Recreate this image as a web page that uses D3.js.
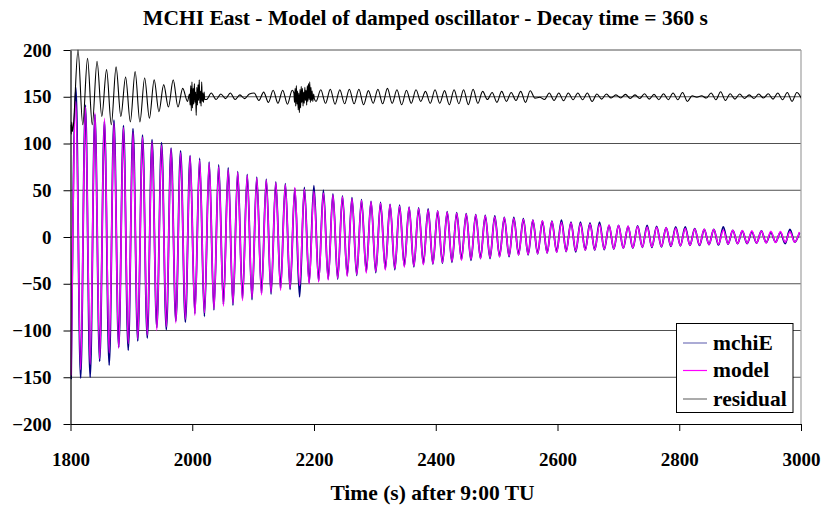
<!DOCTYPE html>
<html>
<head>
<meta charset="utf-8">
<script src="https://cdn.jsdelivr.net/npm/d3@7"></script>
<style>
  body { margin: 0; background: #fff; }
  svg { display: block; }
  text { font-family: "Liberation Serif", "Times New Roman", serif; font-weight: bold; fill: #000; }
</style>
</head>
<body>
<svg id="chart" width="825" height="506"></svg>
<script>
// ---- data ---------------------------------------------------------------
const TITLE = "MCHI East - Model of damped oscillator - Decay time = 360 s";
const X_LABEL = "Time (s) after 9:00 TU";
const X_TICKS = [1800, 2000, 2200, 2400, 2600, 2800, 3000];
const Y_TICKS = [-200, -150, -100, -50, 0, 50, 100, 150, 200];
const SERIES_NAMES = ["mchiE", "model", "residual"];

// successive extrema (trough, crest, ...) are one half period apart
const HALF_PERIOD = 7.82;      // s
const T0_SIGNAL = 1801;        // time of the first extremum of mchiE / model
const T0_RESIDUAL = 1804.5;    // time of the first extremum of the residual
const RESIDUAL_OFFSET = 150;   // residual is drawn shifted up by this amount

// model: extrema of the fitted damped oscillation
const MODEL = [
  -148, 145, -142, 139, -136, 133, -130, 127, -124, 122,
  -119, 117, -114, 112, -109, 107, -105, 102, -100, 98,
  -96, 94, -92, 90, -88, 86, -84, 82, -81, 79,
  -77, 75, -74, 72, -71, 69, -68, 66, -65, 63,
  -62, 61, -59, 58, -57, 56, -54, 53, -52, 51,
  -50, 49, -48, 47, -46, 45, -44, 43, -42, 41,
  -40, 39, -38.5, 37.6, -36.8, 36, -35.3, 34.5, -33.8, 33,
  -32.3, 31.6, -31, 30.3, -29.6, 29, -28.4, 27.8, -27.2, 26.6,
  -26, 25.5, -24.9, 24.4, -23.9, 23.4, -22.9, 22.4, -21.9, 21.4,
  -21, 20.5, -20.1, 19.7, -19.2, 18.8, -18.4, 18, -17.6, 17.3,
  -16.9, 16.5, -16.2, 15.8, -15.5, 15.2, -14.8, 14.5, -14.2, 13.9,
  -13.6, 13.3, -13, 12.8, -12.5, 12.2, -12, 11.7, -11.5, 11.2,
  -11, 10.7, -10.5, 10.3, -10.1, 9.8, -9.6, 9.4, -9.2, 9,
  -8.8, 8.6, -8.5, 8.3, -8.1, 7.9, -7.8, 7.6, -7.4, 7.3,
  -7.1, 7, -6.8, 6.7, -6.5, 6.4, -6.3, 6.1, -6, 5.9,
  -5.7, 5.6, -5.5, 5.4
];

// mchiE: measured extrema
const MCHIE = [
  -152, 160, -151, 141, -150, 131, -133, 124, -137, 125,
  -118, 119, -121, 116, -111, 109, -108, 104, -97, 101,
  -99, 95, -90, 92, -91, 87, -82, 84, -85, 80,
  -78, 77, -72, 74, -73, 70, -66, 67, -67, 64,
  -60, 62, -61, 59, -55, 57, -56, 52, -64, 53,
  -49, 55, -47, 50, -45, 46, -45, 44, -41, 42,
  -41, 40, -37, 38, -38, 37, -34, 35, -35, 34,
  -31, 32, -32, 31, -29, 30, -29, 28, -28, 27,
  -27, 26, -24, 25, -25, 24, -23, 23, -23, 22.5,
  -21, 21, -21, 21, -19, 19.6, -19, 18, -18, 17,
  -17, 17, -16, 18, -15.5, 16, -16, 16, -14, 15,
  -14, 16, -13.5, 12.5, -13, 12.5, -12, 11.4, -12, 11.8,
  -11, 12.5, -11, 11.4, -10.5, 10, -10, 10.7, -9.5, 10.7,
  -9, 9, -9, 8, -8, 8, -8.5, 10.7, -7.5, 7,
  -7, 6.4, -7, 5.4, -6.5, 6.4, -6, 4.6, -5.5, 5,
  -7, 8, -5.5, 4.6
];

// residual (mchiE - model): extrema between the noisy stretches
const RESIDUAL = [
  -32, 50, -30, 41, -30, 38, -21, 29, -30, 32,
  -21, 21, -27, 27, -27, 20, -23, 18, -16, 13,
  -11, 18, -11, 9, -5, 10, -12, 8, -3, 4,
  -3, 3, -2, 4, -3, 2, -2, 3, 4, -4,
  5, -6, 7, -7, 7, -8, 7, -6, 5, -6,
  4, -5, 7.5, -7, 8, -8, 7.5, -7.5, 8, -7.5,
  8, -8.6, 6.5, -7, 8, -7.5, 9, -7, 7.5, -8.6,
  7, -7, 7.5, -5, 5.7, -7, 7.5, -7, 6.5, -8.6,
  7.5, -7.5, 7.5, -8.5, 8, -7, 5.7, -3, 4.6, -6,
  5.7, -5, 4.6, -4, 5.7, -6, 6.4, -1.5, -0.5, -3,
  4, -4, 4, -4.3, 4, -3.2, 4, -3.2, 4, -5,
  3, -2.5, 2.9, -1.4, 2, -1.4, 2.5, -1.8, 2, -1.8,
  3.2, -2.5, 2.5, -3.2, 3.2, -3.2, 4, -3.2, 4.6, -5,
  1, -0.5, 1, -1.4, 4, -3.2, 5.4, -4, 3.2, -2.5,
  2.9, -1.8, 2, -1.8, 2.9, -1.4, 3.2, -2.5, 4, -3.2,
  4.6, -5, 4.6, -2
];

// residual: stretches of fast disturbances, [time (s), value]
const RESIDUAL_BURSTS = [[1995, 2021], [2166, 2201]];
const RESIDUAL_NOISE = [
  [1800.3, -30], [1801.2, -40], [1802, -27], [1803, -37],
  [1995.5, 3], [1996.5, -9], [1997.5, 12], [1998.5, -15], [1999.5, 16],
  [2000.5, -12], [2001.5, 9], [2002.5, -8], [2003.5, 14], [2004.5, -6],
  [2005.5, 5], [2006.5, -20], [2007.5, 10], [2008.5, -9], [2009.5, 13],
  [2010.5, -4], [2011.5, 18], [2012.5, -7], [2013.5, 6], [2014.5, -10],
  [2015.5, 16], [2016.5, -5], [2017.5, 4], [2018.5, -6], [2019.5, 5], [2020.5, -3],
  [2167, 4], [2168, -6], [2169, 9], [2170, -10], [2171, 12], [2172, -8],
  [2173, 6], [2174, -14], [2175, 4], [2176, -17], [2177, 8], [2178, -12],
  [2179, 11], [2180, -6], [2181, 9], [2182, -10], [2183, 5], [2184, -7],
  [2185, 10], [2186, -4], [2187, 7], [2188, -9], [2189, 12], [2190, -5],
  [2191, 14], [2192, -3], [2193, 16], [2194, -6], [2195, 10], [2196, -4],
  [2197, 6], [2198, -5], [2199.5, 3], [2200.5, -2]
];

const COLORS = { mchiE: "#000080", model: "#ff00ff", residual: "#000000" };

// ---- build point lists --------------------------------------------------
const signalPoints = arr => arr.map((v, i) => ({ t: T0_SIGNAL + i * HALF_PERIOD, v }));
const inBurst = t => RESIDUAL_BURSTS.some(([a, b]) => t >= a && t <= b);
const residualPoints = RESIDUAL
  .map((v, j) => ({ t: T0_RESIDUAL + j * HALF_PERIOD, v }))
  .filter(d => !inBurst(d.t))
  .concat(RESIDUAL_NOISE.map(([t, v]) => ({ t, v })))
  .sort((a, b) => a.t - b.t)
  .map(d => ({ t: d.t, v: d.v + RESIDUAL_OFFSET }));

// ---- chart ----------------------------------------------------------------
const svg = d3.select("#chart");
const W = 825, H = 506;
const plot = { left: 70.5, right: 801, top: 50, bottom: 424 };

svg.append("rect").attr("width", W).attr("height", H).attr("fill", "#fff");

const x = d3.scaleLinear().domain([1800, 3000]).range([plot.left, plot.right]);
const y = d3.scaleLinear().domain([-200, 200]).range([plot.bottom, plot.top]);

// horizontal gridlines
svg.append("g").selectAll("line")
  .data(Y_TICKS.filter(v => v !== -200))
  .join("line")
  .attr("x1", plot.left).attr("x2", plot.right)
  .attr("y1", d => y(d)).attr("y2", d => y(d))
  .attr("stroke", "#505050").attr("stroke-width", 1);

// right edge of the plot area
svg.append("line")
  .attr("x1", plot.right).attr("x2", plot.right)
  .attr("y1", plot.top).attr("y2", plot.bottom)
  .attr("stroke", "#a0a0a0").attr("stroke-width", 1.2);

// series
const line = d3.line()
  .x(d => x(d.t))
  .y(d => y(d.v))
  .curve(d3.curveMonotoneX);

svg.append("clipPath").attr("id", "plotclip")
  .append("rect")
  .attr("x", plot.left).attr("y", plot.top - 4)
  .attr("width", plot.right - plot.left).attr("height", plot.bottom - plot.top + 4);

const series = svg.append("g").attr("clip-path", "url(#plotclip)");
series.append("path").datum(signalPoints(MCHIE))
  .attr("d", line).attr("fill", "none")
  .attr("stroke", COLORS.mchiE).attr("stroke-width", 1.8);
series.append("path").datum(signalPoints(MODEL))
  .attr("d", line).attr("fill", "none")
  .attr("stroke", COLORS.model).attr("stroke-width", 1.5);
series.append("path").datum(residualPoints)
  .attr("d", line).attr("fill", "none")
  .attr("stroke", COLORS.residual).attr("stroke-width", 1.1);

// axes
const yAxis = svg.append("g")
  .attr("transform", `translate(${plot.left},0)`)
  .call(d3.axisLeft(y).tickValues(Y_TICKS).tickSize(7).tickSizeOuter(0).tickPadding(12));
const xAxis = svg.append("g")
  .attr("transform", `translate(0,${plot.bottom})`)
  .call(d3.axisBottom(x).tickValues(X_TICKS).tickFormat(d3.format("d")).tickSize(7).tickSizeOuter(0).tickPadding(22));

[yAxis, xAxis].forEach(g => {
  g.select(".domain").attr("stroke", "#000").attr("stroke-width", 1.2);
  g.selectAll(".tick line").attr("stroke", "#000");
  g.selectAll(".tick text")
    .attr("font-family", '"Liberation Serif", "Times New Roman", serif')
    .attr("font-weight", "bold")
    .attr("font-size", 19)
    .attr("fill", "#000");
});

// titles
svg.append("text")
  .attr("x", 425.5).attr("y", 25)
  .attr("text-anchor", "middle")
  .attr("font-size", 21.5)
  .text(TITLE);

svg.append("text")
  .attr("x", 432.5).attr("y", 500)
  .attr("text-anchor", "middle")
  .attr("font-size", 21.5)
  .text(X_LABEL);

// legend
const legend = svg.append("g");
legend.append("rect")
  .attr("x", 676.5).attr("y", 323.5)
  .attr("width", 116.5).attr("height", 89)
  .attr("fill", "#fff").attr("stroke", "#000").attr("stroke-width", 1);

const rowY = [343, 370.5, 399];
SERIES_NAMES.forEach((name, i) => {
  legend.append("line")
    .attr("x1", 683).attr("x2", 707)
    .attr("y1", rowY[i]).attr("y2", rowY[i])
    .attr("stroke", COLORS[name]).attr("stroke-width", 1.2)
    .attr("stroke-opacity", name === "model" ? 1 : 0.55);
  legend.append("text")
    .attr("x", 713).attr("y", rowY[i] + 6.5)
    .attr("font-size", 21.5)
    .text(name);
});
</script>
</body>
</html>
